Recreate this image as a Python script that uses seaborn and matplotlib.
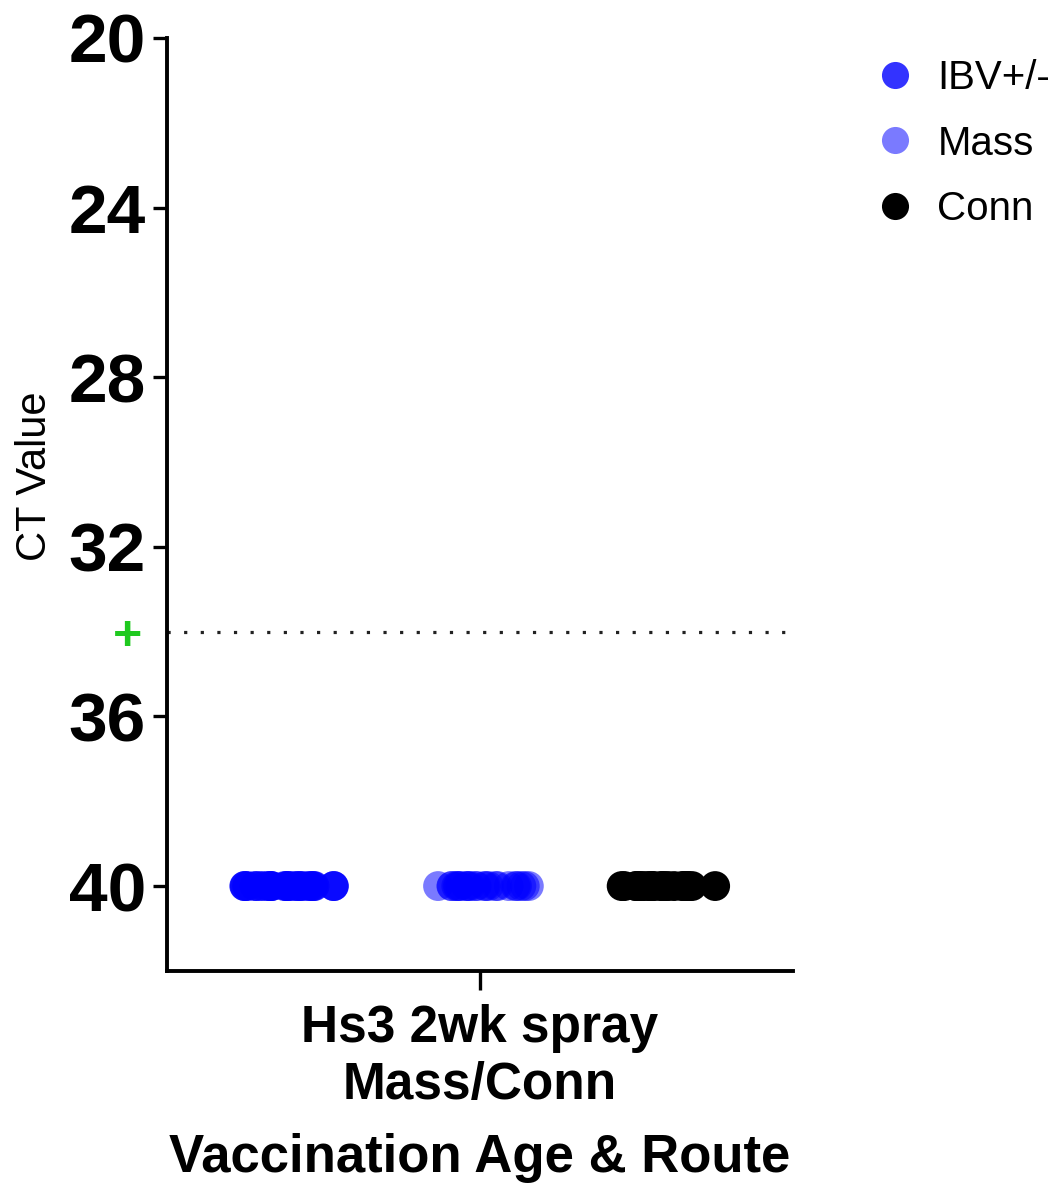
import numpy as np
import pandas as pd
import matplotlib
matplotlib.use("Agg")
import matplotlib.pyplot as plt
from matplotlib.lines import Line2D
import seaborn as sns

# ---- data -------------------------------------------------------------
group_label = "Hs3 2wk spray\nMass/Conn"
assays = ["IBV+/-", "Mass", "Conn"]
ibv_ct = [40, 40, 40, 40, 40, 40, 40, 40, 40, 40, 40, 40,
          40, 40, 40, 40, 40, 40, 40, 40, 40, 40, 40, 40]
mass_ct = [40, 40, 40, 40, 40, 40, 40, 40, 40, 40, 40, 40,
           40, 40, 40, 40, 40, 40, 40, 40, 40, 40, 40, 40]
conn_ct = [40, 40, 40, 40, 40, 40, 40, 40, 40, 40, 40, 40,
           40, 40, 40, 40, 40, 40, 40, 40, 40, 40, 40, 40]
positive_cutoff = 34
y_ticks = [20, 24, 28, 32, 36, 40]

colors = {"IBV+/-": "#0000FF", "Mass": "#0000FF", "Conn": "#000000"}
alphas = {"IBV+/-": 0.8, "Mass": 0.52, "Conn": 1.0}

df = pd.DataFrame({
    "group": group_label,
    "assay": (["IBV+/-"] * len(ibv_ct) + ["Mass"] * len(mass_ct)
              + ["Conn"] * len(conn_ct)),
    "ct": ibv_ct + mass_ct + conn_ct,
})

# ---- style ------------------------------------------------------------
sns.set_style("ticks")
plt.rcParams["font.family"] = ["Liberation Sans", "DejaVu Sans"]
plt.rcParams["text.color"] = "black"
plt.rcParams["axes.labelcolor"] = "black"
plt.rcParams["xtick.color"] = "black"
plt.rcParams["ytick.color"] = "black"

fig = plt.figure(figsize=(10.63, 11.84), dpi=100)
ax = fig.add_axes([0.157, 0.180, 0.589, 0.788])

np.random.seed(3)
sns.stripplot(data=df, x="group", y="ct", hue="assay", hue_order=assays,
              palette=colors, dodge=True, jitter=0.22, size=21.5,
              linewidth=0, legend=False, ax=ax)

for coll, name in zip(ax.collections, assays):
    coll.set_alpha(alphas[name])

# positivity threshold
ax.axhline(positive_cutoff, color="#222222", linestyle=(0, (1, 4.2)),
           linewidth=2.3, zorder=0)

# axes
ax.set_xlim(-0.447, 0.447)
ax.set_ylim(42, 20)
ax.set_yticks(y_ticks)
ax.set_yticklabels([str(t) for t in y_ticks], fontsize=50, fontweight="bold",
                   color="black")
ax.set_yticks([positive_cutoff], ["+"], minor=True, color="#1FC91F",
              fontsize=36, fontweight="bold")
ax.tick_params(axis="y", which="major", length=10, width=2.4, pad=5,
               direction="out", color="black")
ax.tick_params(axis="y", which="minor", length=0, pad=18,
               labelcolor="#1FC91F")
ax.tick_params(axis="x", length=14, width=2.4, pad=10, direction="out",
               color="black")
for lab in ax.get_xticklabels():
    lab.set_fontsize(37)
    lab.set_fontweight("bold")
    lab.set_linespacing(1.2)
    lab.set_color("black")

ax.set_xlabel("Vaccination Age & Route", fontsize=38, fontweight="bold",
              labelpad=17, color="black")
ax.set_ylabel("CT Value", fontsize=30, color="black")
ax.yaxis.set_label_coords(-0.178, 0.53)

sns.despine(ax=ax)
for side in ("left", "bottom"):
    ax.spines[side].set_linewidth(2.8)
    ax.spines[side].set_color("black")

# legend
handles = [Line2D([], [], linestyle="none", marker="o", markersize=19.5,
                  markerfacecolor=colors[a], markeredgewidth=0,
                  alpha=alphas[a]) for a in assays]
fig.legend(handles, assays, loc="upper left", bbox_to_anchor=(0.823, 0.950),
           frameon=False, fontsize=29, handlelength=1.0, handletextpad=0.55,
           labelspacing=0.68, borderpad=0, borderaxespad=0)

fig.savefig("out.png", dpi=100)
